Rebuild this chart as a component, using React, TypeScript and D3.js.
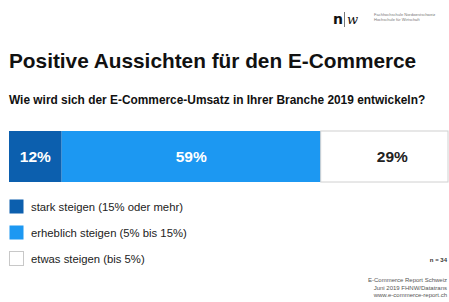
import * as d3 from "d3";
import { useEffect, useRef } from "react";

const categories = ["stark steigen (15% oder mehr)", "erheblich steigen (5% bis 15%)", "etwas steigen (bis 5%)"];
const shares = [12, 59, 29];
const colors = ["#0c5fae", "#1c98f2", "#ffffff"];
const labelColors = ["#ffffff", "#ffffff", "#222222"];

const title = "Positive Aussichten für den E-Commerce";
const question = "Wie wird sich der E-Commerce-Umsatz in Ihrer Branche 2019 entwickeln?";
const sampleNote = "n = 34";
const footer = ["E-Commerce Report Schweiz", "Juni 2019 FHNW/Datatrans", "www.e-commerce-report.ch"];
const logoLines = ["Fachhochschule Nordwestschweiz", "Hochschule für Wirtschaft"];

const W = 449;
const H = 302;
const font = "'Liberation Sans', Arial, sans-serif";

export default function App() {
    const svgRef = useRef<SVGSVGElement>(null);

    useEffect(() => {
        if (svgRef.current) {
            drawChart();
        }
    }, [svgRef]);

    const drawChart = () => {
        const svg = d3.select(svgRef.current);
        svg.selectAll("*").remove();
        svg.append("rect").attr("width", W).attr("height", H).attr("fill", "#fff");

        drawHeader(svg);
        drawBar(svg);
        drawLegend(svg);
        drawFooter(svg);
    };

    const drawHeader = (svg: any) => {
        // logo top right
        const logo = svg.append("g").attr("transform", "translate(333,24)");
        logo.append("text")
            .attr("font-family", "'DejaVu Sans', sans-serif")
            .attr("font-weight", "bold")
            .attr("font-size", 14)
            .attr("fill", "#111")
            .text("n");
        logo.append("line")
            .attr("x1", 11.5).attr("x2", 11.5)
            .attr("y1", -12).attr("y2", 3)
            .attr("stroke", "#555").attr("stroke-width", 0.8);
        logo.append("text")
            .attr("x", 14)
            .attr("font-family", "'DejaVu Serif', serif")
            .attr("font-style", "italic")
            .attr("font-size", 13)
            .attr("fill", "#111")
            .text("w");
        logo.selectAll("text.sub")
            .data(logoLines)
            .enter()
            .append("text")
            .attr("class", "sub")
            .attr("x", 41)
            .attr("y", (d: string, i: number) => -8 + i * 5)
            .attr("font-family", font)
            .attr("font-size", 4)
            .attr("fill", "#777")
            .text((d: string) => d);

        svg.append("text")
            .attr("x", 9)
            .attr("y", 68)
            .attr("font-family", font)
            .attr("font-weight", "bold")
            .attr("font-size", 20.8)
            .attr("fill", "#111")
            .text(title);

        svg.append("text")
            .attr("x", 9)
            .attr("y", 104)
            .attr("font-family", font)
            .attr("font-weight", "bold")
            .attr("font-size", 11.9)
            .attr("fill", "#111")
            .text(question);
    };

    const drawBar = (svg: any) => {
        // stacked 100% bar
        const scaleX = d3.scaleLinear().domain([0, d3.sum(shares)]).range([9, 448]);
        const barTop = 131;
        const barHeight = 51;
        const starts = shares.map((d, i) => d3.sum(shares.slice(0, i)));

        const bar = svg.append("g").classed("bar", true);
        bar.selectAll("rect")
            .data(shares)
            .enter()
            .append("rect")
            .attr("x", (d: number, i: number) => scaleX(starts[i]))
            .attr("y", barTop)
            .attr("width", (d: number, i: number) => scaleX(starts[i] + d) - scaleX(starts[i]))
            .attr("height", barHeight)
            .attr("fill", (d: number, i: number) => colors[i])
            .attr("stroke", (d: number, i: number) => (i === 2 ? "#d0d0d0" : "none"))
            .attr("stroke-width", 1);

        bar.selectAll("text")
            .data(shares)
            .enter()
            .append("text")
            .attr("x", (d: number, i: number) => (scaleX(starts[i]) + scaleX(starts[i] + d)) / 2 + (i === 2 ? 8 : 0))
            .attr("y", barTop + barHeight / 2)
            .attr("dy", "0.35em")
            .attr("text-anchor", "middle")
            .attr("font-family", font)
            .attr("font-weight", "bold")
            .attr("font-size", 15.5)
            .attr("fill", (d: number, i: number) => labelColors[i])
            .text((d: number) => `${d}%`);
    };

    const drawLegend = (svg: any) => {
        const items = svg.append("g").classed("legend", true)
            .selectAll("g")
            .data(categories)
            .enter()
            .append("g")
            .attr("transform", (d: string, i: number) => `translate(9,${199 + i * 26})`);
        items.append("rect")
            .attr("x", 0.5)
            .attr("y", 0.5)
            .attr("width", 14)
            .attr("height", 14)
            .attr("fill", (d: string, i: number) => colors[i])
            .attr("stroke", (d: string, i: number) => (i === 2 ? "#c8c8c8" : "none"));
        items.append("text")
            .attr("x", 22)
            .attr("y", 8)
            .attr("dy", "0.35em")
            .attr("font-family", font)
            .attr("font-size", 11.3)
            .attr("fill", "#222")
            .text((d: string) => d);
    };

    const drawFooter = (svg: any) => {
        svg.append("text")
            .attr("x", 447)
            .attr("y", 262)
            .attr("text-anchor", "end")
            .attr("font-family", font)
            .attr("font-weight", "bold")
            .attr("font-size", 6)
            .attr("fill", "#333")
            .text(sampleNote);
        svg.selectAll("text.foot")
            .data(footer)
            .enter()
            .append("text")
            .attr("class", "foot")
            .attr("x", 447)
            .attr("y", (d: string, i: number) => 282 + i * 7.5)
            .attr("text-anchor", "end")
            .attr("font-family", font)
            .attr("font-size", 6)
            .attr("fill", "#555")
            .text((d: string) => d);
    };

    return (
        <svg
            ref={svgRef}
            width={W}
            height={H}
            style={{ position: "absolute", left: 0, top: 0 }}
        />
    );
}
